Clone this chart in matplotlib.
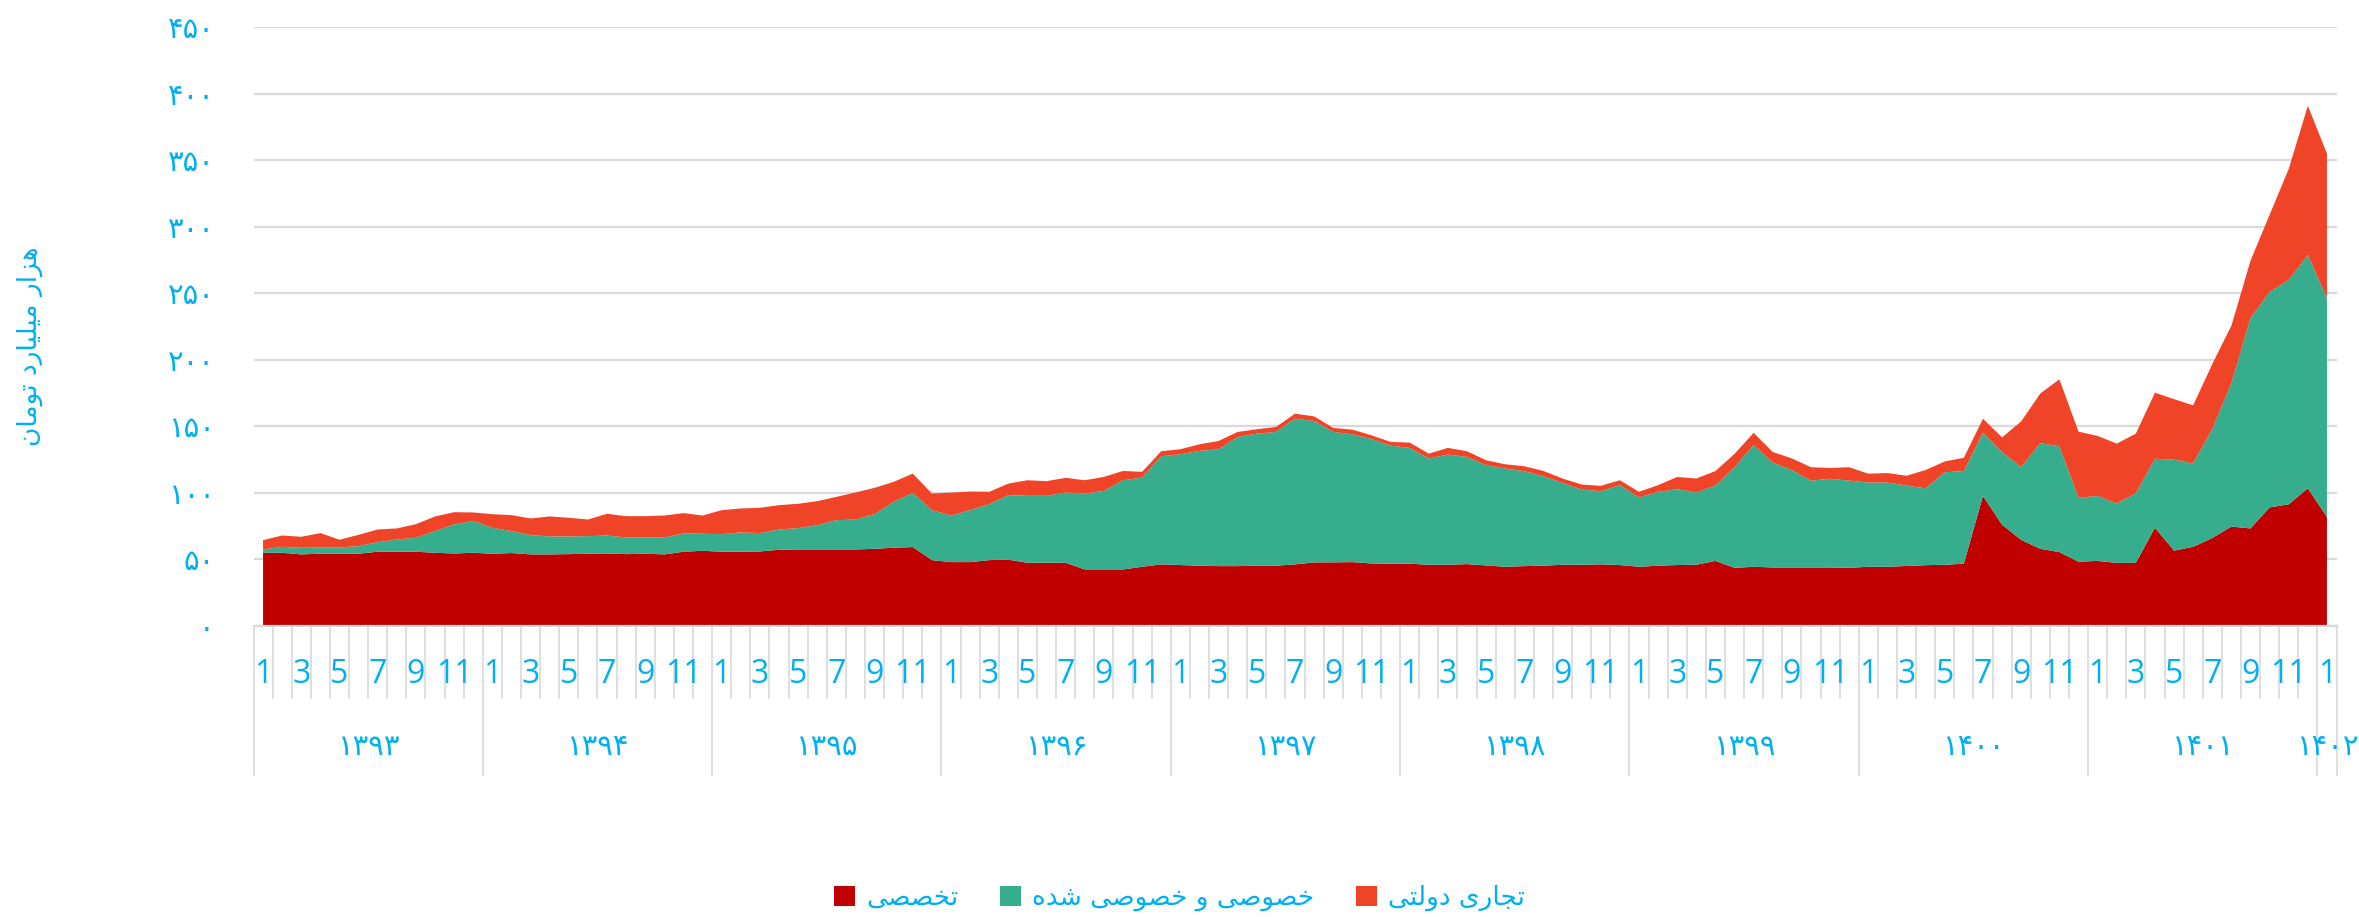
import numpy as np
import matplotlib
matplotlib.use('Agg')
import matplotlib.pyplot as plt
from matplotlib.patches import Patch

# categories: monthly, 1393/1 .. 1402/1
years = ['1393', '1394', '1395', '1396', '1397', '1398', '1399', '1400', '1401', '1402']
months = [1, 2, 3, 4, 5, 6, 7, 8, 9, 10, 11, 12]

series_names = ['تخصصی', 'خصوصی و خصوصی شده', 'تجاری دولتی']
y_label = 'هزار میلیارد تومان'
y_ticks = [0, 50, 100, 150, 200, 250, 300, 350, 400, 450]

# values (thousand billion toman)
takhasosi = [55.0, 55.0, 53.8, 54.3, 54.3, 54.3, 55.8, 55.8, 55.8, 55.0, 54.5, 55.0,
             54.3, 54.8, 53.8, 53.8, 54.0, 54.3, 54.5, 54.0, 54.3, 53.8, 55.8, 56.5,
             55.8, 55.8, 56.0, 57.3, 57.5, 57.5, 57.5, 57.5, 58.0, 58.8, 59.3, 49.5,
             48.0, 48.0, 49.5, 49.8, 47.5, 47.5, 47.5, 42.5, 42.5, 42.5, 44.5, 46.3,
             45.8, 45.3, 45.0, 45.0, 45.3, 45.3, 46.3, 47.8, 47.8, 48.0, 47.0, 46.8,
             46.8, 46.0, 46.0, 46.5, 45.5, 44.5, 45.0, 45.3, 46.0, 46.0, 46.3, 45.8,
             44.5, 45.3, 45.8, 46.0, 48.9, 43.7, 44.5, 44.0, 44.0, 44.0, 44.0, 43.7,
             44.5, 44.5, 45.1, 45.7, 46.0, 46.8, 97.7, 76.1, 64.7, 58.0, 55.5, 48.3,
             48.9, 47.4, 47.4, 73.9, 56.6, 59.5, 66.1, 74.7, 73.3, 89.1, 91.4, 103.4,
             81.9]
khosusi = [2.5, 4.5, 5.0, 4.7, 4.7, 5.7, 7.2, 9.2, 10.5, 16.3, 21.8, 24.0,
           19.5, 16.5, 14.5, 13.5, 13.3, 13.2, 13.5, 12.5, 12.2, 12.7, 13.7, 12.8,
           13.2, 14.5, 13.8, 15.2, 16.0, 18.3, 22.0, 22.5, 26.0, 34.5, 40.7, 37.5,
           35.0, 39.0, 42.0, 48.5, 50.3, 50.3, 52.8, 57.0, 59.0, 67.0, 67.0, 81.2,
           83.2, 86.2, 87.8, 97.0, 99.2, 100.5, 109.5, 106.2, 98.0, 96.0, 93.5, 88.7,
           87.0, 79.8, 82.8, 80.5, 75.3, 73.8, 71.3, 67.2, 61.5, 56.5, 55.0, 60.0,
           52.0, 55.5, 57.0, 54.3, 56.6, 75.6, 91.5, 78.7, 73.2, 65.2, 66.6, 65.5,
           63.3, 63.3, 60.4, 57.7, 69.5, 69.6, 47.4, 54.6, 54.6, 79.4, 79.5, 48.0,
           48.8, 44.6, 52.3, 51.7, 68.4, 62.6, 81.9, 107.8, 158.0, 161.8, 168.6, 175.3,
           164.4]
tejari = [7.0, 8.5, 8.2, 10.8, 5.8, 8.5, 9.5, 8.3, 10.2, 11.0, 9.2, 6.3,
          10.2, 12.0, 12.5, 15.0, 14.0, 12.5, 16.3, 16.0, 16.0, 16.5, 15.3, 13.7,
          18.0, 18.0, 19.0, 18.3, 18.3, 18.0, 17.5, 20.3, 19.8, 15.0, 14.5, 12.5,
          17.2, 14.0, 9.3, 8.7, 11.7, 11.0, 11.0, 10.0, 10.5, 7.0, 4.3, 3.8,
          3.8, 5.0, 6.2, 3.8, 3.3, 3.7, 3.7, 3.5, 3.0, 3.5, 2.8, 2.8,
          4.0, 3.7, 5.0, 4.3, 3.7, 3.2, 3.7, 4.0, 3.3, 3.8, 4.0, 3.7,
          4.3, 5.0, 9.2, 10.5, 10.9, 10.0, 9.1, 8.0, 8.7, 10.1, 8.1, 10.1,
          6.6, 7.1, 7.4, 13.8, 8.1, 10.0, 10.6, 11.0, 34.4, 37.3, 50.3, 49.7,
          45.1, 45.0, 44.8, 49.7, 45.4, 43.7, 48.8, 43.1, 43.1, 58.0, 83.4, 112.1,
          108.6]

colors = ['#C00000', '#36AD8D', '#F04428']
text_color = '#00B0F0'
grid_color = '#D9D9D9'

# arabic presentation forms: isolated, final, initial, medial
FORMS = {
    'ا': ('\uFE8D', '\uFE8E', None, None),
    'د': ('\uFEA9', '\uFEAA', None, None),
    'ر': ('\uFEAD', '\uFEAE', None, None),
    'ز': ('\uFEAF', '\uFEB0', None, None),
    'و': ('\uFEED', '\uFEEE', None, None),
    'ه': ('\uFEE9', '\uFEEA', '\uFEEB', '\uFEEC'),
    'م': ('\uFEE1', '\uFEE2', '\uFEE3', '\uFEE4'),
    'ل': ('\uFEDD', '\uFEDE', '\uFEDF', '\uFEE0'),
    'ت': ('\uFE95', '\uFE96', '\uFE97', '\uFE98'),
    'ن': ('\uFEE5', '\uFEE6', '\uFEE7', '\uFEE8'),
    'خ': ('\uFEA5', '\uFEA6', '\uFEA7', '\uFEA8'),
    'ص': ('\uFEB9', '\uFEBA', '\uFEBB', '\uFEBC'),
    'ج': ('\uFE9D', '\uFE9E', '\uFE9F', '\uFEA0'),
    'ش': ('\uFEB5', '\uFEB6', '\uFEB7', '\uFEB8'),
    'ی': ('\uFEEF', '\uFEF0', '\uFEF3', '\uFEF4'),
}


def shape(text):
    # join letters and flip to visual order (matplotlib has no rtl shaping)
    out = []
    for k, c in enumerate(text):
        if c not in FORMS:
            out.append(c)
            continue
        prev = text[k - 1] if k > 0 else ''
        nxt = text[k + 1] if k + 1 < len(text) else ''
        joins_prev = prev in FORMS and FORMS[prev][2] is not None
        joins_next = FORMS[c][2] is not None and nxt in FORMS
        if joins_prev and joins_next:
            out.append(FORMS[c][3])
        elif joins_prev:
            out.append(FORMS[c][1])
        elif joins_next:
            out.append(FORMS[c][2])
        else:
            out.append(FORMS[c][0])
    return ''.join(out[::-1])


def fa_digits(s):
    return str(s).translate(str.maketrans('0123456789', '۰۱۲۳۴۵۶۷۸۹'))


def main():
    periods = [(y, m) for y in years[:-1] for m in months] + [(years[-1], 1)]
    n = len(periods)
    x = np.arange(n)

    W, H = 2359, 917
    fig = plt.figure(figsize=(W / 100, H / 100), dpi=100)
    # plot box in pixels: left 253.5, right 2336.5, top 27, bottom 626
    ax = fig.add_axes([253.5 / W, (H - 626) / H, 2083 / W, 599 / H])

    ax.stackplot(x, takhasosi, khosusi, tejari, colors=colors, linewidth=0)
    ax.set_xlim(-0.5, n - 0.5)
    ax.set_ylim(0, 450)

    ax.set_yticks(y_ticks)
    ax.set_yticklabels([fa_digits(v) for v in y_ticks], family='DejaVu Sans',
                       fontsize=21, color=text_color)
    ax.tick_params(axis='y', length=0, pad=28)
    ax.yaxis.grid(True, color=grid_color, linewidth=1.6)
    ax.set_axisbelow(True)
    ax.set_xticks([])
    for s in ['top', 'right', 'left']:
        ax.spines[s].set_visible(False)
    ax.spines['bottom'].set_color(grid_color)
    ax.spines['bottom'].set_linewidth(1.6)

    # multi-level category axis
    tr = ax.get_xaxis_transform()
    for k in range(n + 1):
        b = k - 0.5
        low = -0.2487 if (k % 12 == 0 or k == n) else -0.1202
        ax.plot([b, b], [0, low], color=grid_color, lw=1.2, transform=tr, clip_on=False)
    for i, (y, m) in enumerate(periods):
        if m % 2 == 1:
            ax.text(i, -0.0818, str(m), transform=tr, ha='center', va='center',
                    fontsize=23, color=text_color, family=['Open Sans', 'DejaVu Sans'])
    for j, y in enumerate(years):
        idx = [i for i, p in enumerate(periods) if p[0] == y]
        ax.text(np.mean(idx), -0.202, fa_digits(y), transform=tr, ha='center', va='center',
                fontsize=21, color=text_color, family='DejaVu Sans')

    fig.text(30 / W, 1 - 346 / H, shape(y_label), rotation=90, ha='center', va='center',
             fontsize=19, color=text_color, family='DejaVu Sans')

    handles = [Patch(facecolor=c, edgecolor='none') for c in colors]
    leg = fig.legend(handles, [shape(s) for s in series_names], loc='center',
                     bbox_to_anchor=(0.5, 1 - 898 / H), ncol=3, frameon=False,
                     prop={'family': 'DejaVu Sans', 'size': 19},
                     handlelength=0.8, handleheight=0.8, handletextpad=0.4,
                     columnspacing=1.6)
    for t in leg.get_texts():
        t.set_color(text_color)

    fig.savefig('out.png', dpi=100)


if __name__ == "__main__":
    main()
